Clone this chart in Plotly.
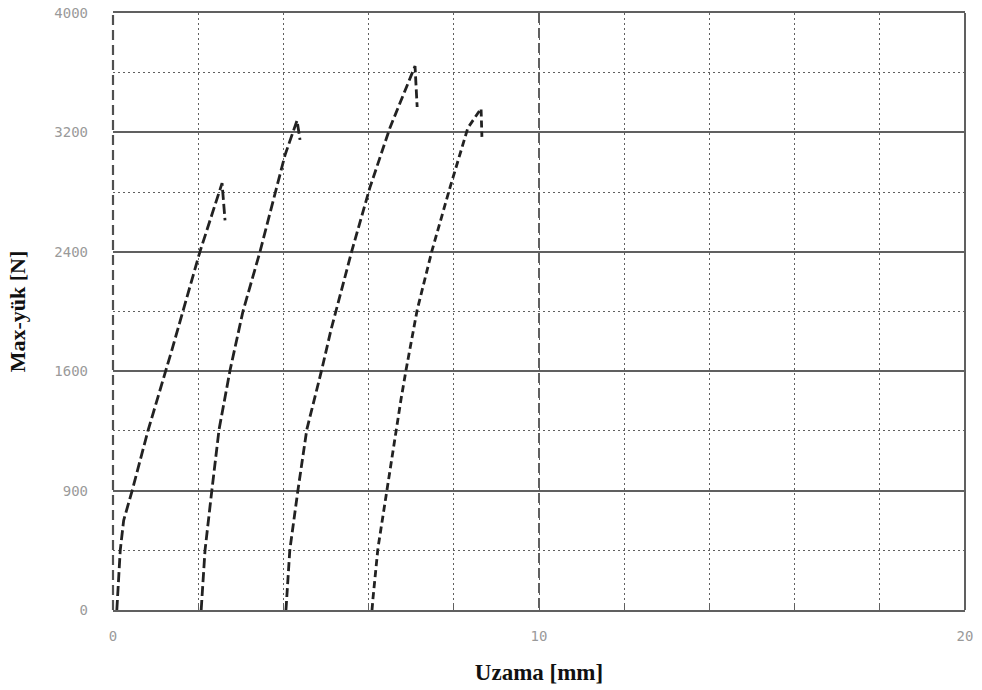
import plotly.graph_objects as go

# Data (elongation mm, load N)
c1_x = [0.09, 0.13, 0.17, 0.25, 0.45, 0.82, 1.24, 1.38, 1.64, 2.04, 2.56, 2.63]
c1_y = [0, 200, 400, 600, 800, 1200, 1600, 1740, 2000, 2400, 2860, 2610]

c2_x = [2.07, 2.12, 2.16, 2.32, 2.49, 2.75, 2.96, 3.05, 3.45, 4.04, 4.32, 4.39]
c2_y = [0, 200, 400, 800, 1210, 1610, 1880, 2000, 2400, 3050, 3280, 3150]

c3_x = [4.06, 4.15, 4.34, 4.55, 4.90, 5.12, 5.61, 6.03, 6.50, 7.09, 7.14]
c3_y = [0, 400, 800, 1210, 1610, 1880, 2410, 2830, 3230, 3645, 3370]

c4_x = [6.08, 6.10, 6.22, 6.43, 6.64, 6.76, 6.88, 7.14, 7.49, 7.91, 8.33, 8.64, 8.66]
c4_y = [0, 70, 415, 810, 1210, 1410, 1610, 2010, 2410, 2830, 3230, 3360, 3170]

y_tickvals = [0, 800, 1600, 2400, 3200, 4000]
y_ticktext = ["0", "900", "1600", "2400", "3200", "4000"]
x_tickvals = [0, 10, 20]
x_ticktext = ["0", "10", "20"]

curve_color = "#222222"
grid_color = "#606060"

fig = go.Figure()
for xs, ys, dash in [(c1_x, c1_y, "10px,4px"), (c2_x, c2_y, "10px,4px"),
                     (c3_x, c3_y, "9px,4px"), (c4_x, c4_y, "7px,4px")]:
    fig.add_trace(go.Scatter(x=xs, y=ys, mode="lines",
                             line=dict(color=curve_color, width=2.8, dash=dash),
                             showlegend=False))

# frame: right border solid, left border long-dashed (paper-referenced, not clipped)
fig.add_shape(type="line", xref="paper", yref="paper", x0=1, x1=1, y0=0, y1=1,
              line=dict(color=grid_color, width=2))
fig.add_shape(type="line", xref="paper", yref="paper", x0=0, x1=0,
              y0=0, y1=1, line=dict(color="#505050", width=2.2, dash="10px,5px"))

fig.update_layout(
    width=982, height=690,
    margin=dict(l=113, r=17, t=13, b=80),
    plot_bgcolor="white", paper_bgcolor="white",
    xaxis=dict(
        range=[0, 20], tickmode="array", tickvals=x_tickvals, ticktext=x_ticktext,
        automargin=False,
        showgrid=True, gridcolor=grid_color, gridwidth=1.8, griddash="10px,5px",
        zeroline=False, showline=True, linecolor=grid_color, linewidth=2, mirror=True,
        ticks="", tickfont=dict(family="DejaVu Sans Mono", size=14, color="#9a9a9a"),
        ticklabelstandoff=12,
        minor=dict(tickmode="linear", tick0=0, dtick=2, showgrid=True,
                   gridcolor=grid_color, gridwidth=1.4, griddash="2px,3px",
                   ticks="inside", ticklen=6, tickcolor=grid_color, tickwidth=1.4),
        title=dict(text="Uzama [mm]", standoff=21,
                   font=dict(family="Liberation Serif", size=23, color="#111", weight="bold")),
    ),
    yaxis=dict(
        range=[0, 4000], tickmode="array", tickvals=y_tickvals, ticktext=y_ticktext,
        automargin=False,
        showgrid=True, gridcolor=grid_color, gridwidth=2,
        zeroline=False, showline=False,
        ticks="", tickfont=dict(family="DejaVu Sans Mono", size=14, color="#9a9a9a"),
        ticklabelstandoff=24,
        minor=dict(tickmode="linear", tick0=0, dtick=400, showgrid=True,
                   gridcolor=grid_color, gridwidth=1.4, griddash="2px,3px"),
        title=dict(text="Max-yük [N]", standoff=22,
                   font=dict(family="Liberation Serif", size=22, color="#111", weight="bold")),
    ),
)

fig.write_html("out.html")
